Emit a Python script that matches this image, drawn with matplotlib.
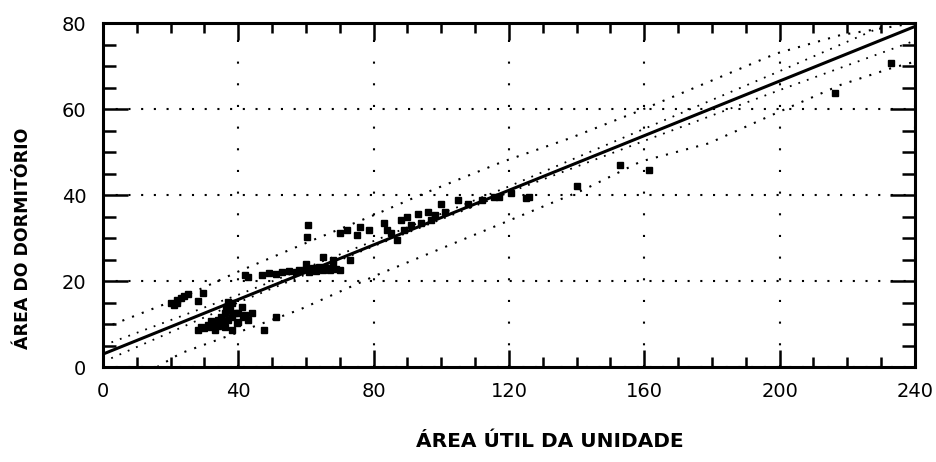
import matplotlib
matplotlib.use("Agg")
import matplotlib.pyplot as plt
from matplotlib.ticker import MultipleLocator

# pontos observados (area util, area do dormitorio)
area_util = [20, 21, 22, 23, 24, 25, 22, 28, 29.5,
             42, 43,
             47, 49, 51, 53, 55, 57, 58, 60, 61, 62, 63, 64, 65, 66, 67, 68, 69, 70,
             60, 65, 68, 73,
             60.7, 60.3,
             70, 72, 75, 78.5, 76,
             83, 84, 85, 87, 88, 89, 90, 91, 93, 94, 96, 97, 98, 100, 101,
             105, 108, 112, 115.6, 117, 120.6, 125,
             28, 29, 30, 31, 32, 32, 33, 33.5, 34, 34, 35, 35.5, 36, 36, 37, 37.5,
             38, 38, 38, 39, 39.5, 40, 40, 41, 41.5, 42, 43, 44, 37, 36.5,
             47.5, 51,
             126, 140, 152.7, 161.5, 216.4, 233]
area_dorm = [14.8, 14.5, 15.5, 16.0, 16.5, 17.0, 14.8, 15.3, 17.1,
             21.5, 21.0,
             21.5, 21.8, 21.6, 22.0, 22.3, 22.0, 22.6, 22.8, 22.2, 23.0, 22.4, 23.3, 22.6, 23.0, 22.5, 23.5, 22.8, 22.5,
             24.0, 25.6, 24.9, 24.9,
             33.0, 30.3,
             31.1, 31.9, 30.7, 31.9, 32.5,
             33.4, 31.9, 31.1, 29.5, 34.2, 31.9, 35.0, 33.0, 35.7, 33.5, 36.1, 34.2, 35.3, 38.0, 36.0,
             38.8, 38.0, 38.8, 39.6, 39.6, 40.4, 39.2,
             8.6, 9.2, 9.0, 9.8, 9.4, 10.6, 8.6, 10.2, 11.0, 9.5, 11.7, 10.4, 9.4, 12.5, 11.0, 13.3,
             8.6, 11.7, 14.8, 12.5, 10.2, 12.5, 10.5, 13.9, 11.7, 12.2, 11.0, 12.5, 15.2, 13.9,
             8.6, 11.7,
             39.5, 42.2, 47.0, 45.8, 63.8, 70.8]

# reta ajustada
reta_x = [0, 240]
reta_y = [3.0, 79.2]

# intervalo de confianca (estreito)
ic_x = [0, 40, 80, 120, 160, 200, 240]
ic_sup = [5.0, 16.8, 29.3, 42.0, 55.4, 68.8, 82.5]
ic_inf = [1.2, 15.0, 28.1, 40.6, 52.6, 64.4, 75.9]

# intervalo de previsao (largo)
ip_sup_x = [0, 24, 40, 62, 80, 95, 118, 138, 158, 179, 199, 218, 236, 240]
ip_sup_y = [9.0, 16.4, 22.2, 29.5, 35.3, 40.4, 47.7, 53.2, 59.4, 66.3, 72.9, 77.2, 79.5, 80]
ip_inf_x = [16, 23, 38, 58, 81, 118, 142, 159, 179, 200, 218, 233, 240]
ip_inf_y = [0.0, 3.2, 7.5, 13.3, 21.4, 33.4, 41.2, 47.8, 52.0, 59.4, 65.6, 69.5, 71.0]

xticks = [0, 40, 80, 120, 160, 200, 240]
yticks = [0, 20, 40, 60, 80]

fig = plt.figure(figsize=(9.36, 4.62), dpi=100)
ax = fig.add_axes([0.110, 0.2056, 0.8675, 0.7446])

ax.set_xlim(0, 240)
ax.set_ylim(0, 80)

ax.grid(axis='x', color='black', linestyle=(0, (1, 9.4)), linewidth=1.5)
ax.grid(axis='y', color='black', linestyle=(0, (1, 5.1)), linewidth=1.5)
ax.set_axisbelow(True)

ax.plot(ip_sup_x, ip_sup_y, color='black', linestyle=(0, (1, 4)), linewidth=1.5)
ax.plot(ip_inf_x, ip_inf_y, color='black', linestyle=(0, (1, 4)), linewidth=1.5)
ax.plot(ic_x, ic_sup, color='black', linestyle=(0, (1, 4)), linewidth=1.3)
ax.plot(ic_x, ic_inf, color='black', linestyle=(0, (1, 4)), linewidth=1.3)
ax.plot(reta_x, reta_y, color='black', linewidth=2.2)
ax.plot(area_util, area_dorm, 's', color='black', markersize=5)

ax.set_xticks(xticks)
ax.set_yticks(yticks)
ax.xaxis.set_minor_locator(MultipleLocator(10))
ax.yaxis.set_minor_locator(MultipleLocator(5))
ax.tick_params(which='both', direction='in', top=True, right=True, width=1.8, color='black')
ax.tick_params(axis='x', which='major', length=12, pad=11, labelsize=14)
ax.tick_params(axis='x', which='minor', length=7)
ax.tick_params(axis='y', which='major', length=18, pad=12, labelsize=14)
ax.tick_params(axis='y', which='minor', length=9.5)
for s in ax.spines.values():
    s.set_linewidth(2.2)

ax.set_xlabel('ÁREA ÚTIL DA UNIDADE', fontsize=14.5, fontweight='bold')
ax.set_ylabel('ÁREA DO DORMITÓRIO', fontsize=12.5, fontweight='bold')
ax.xaxis.set_label_coords(0.55, -0.19)
ax.yaxis.set_label_coords(-0.087, 0.375)

fig.savefig('out.png', dpi=100)
